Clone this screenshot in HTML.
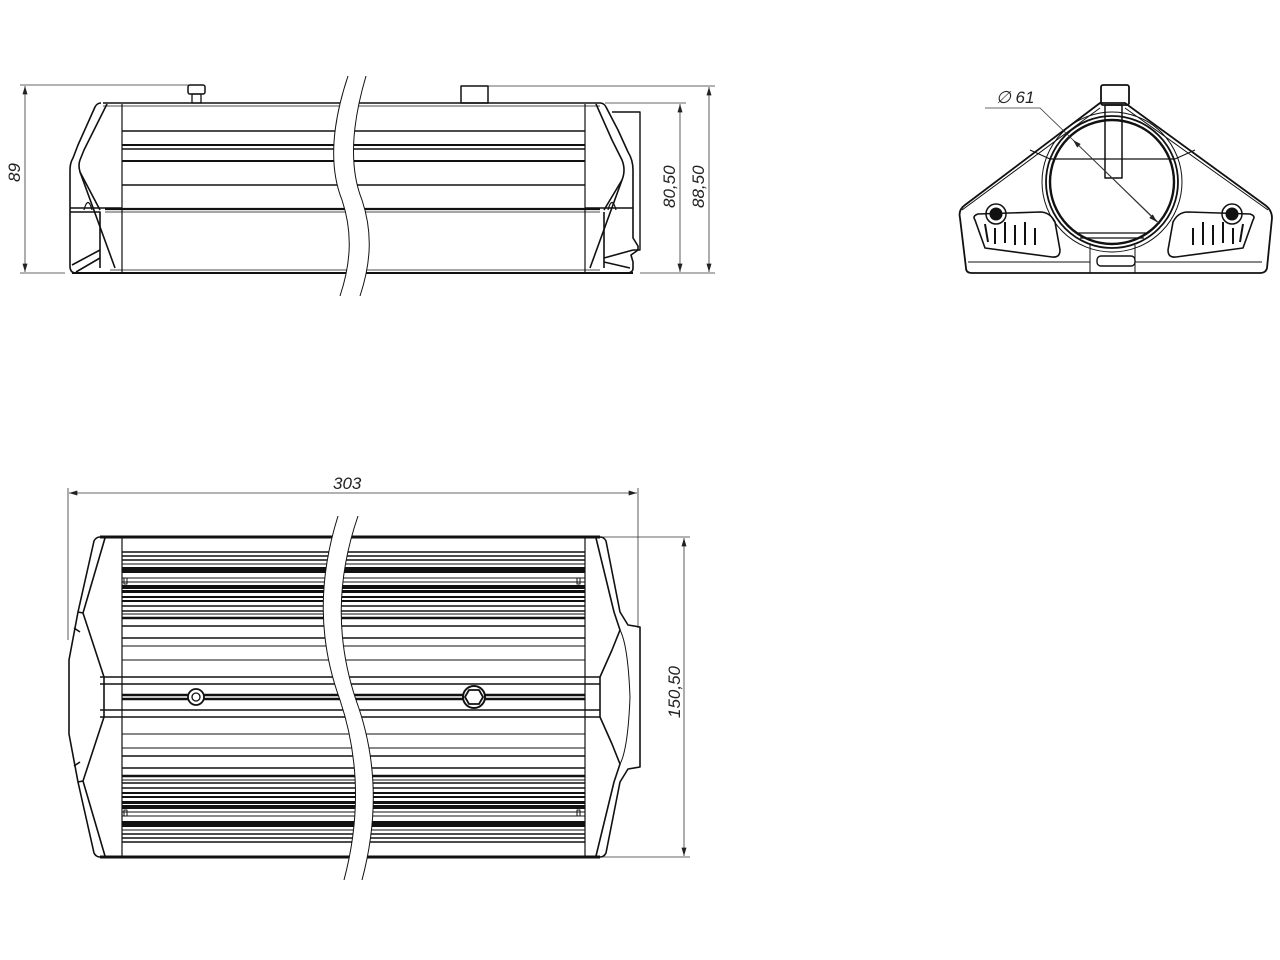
<!DOCTYPE html>
<html><head><meta charset="utf-8"><style>
html,body{margin:0;padding:0;background:#fff;width:1280px;height:960px;overflow:hidden}
svg{display:block}
text{font-family:"Liberation Sans",sans-serif;font-style:italic;font-size:17px;fill:#222}
</style></head><body>
<svg width="1280" height="960" viewBox="0 0 1280 960" xmlns="http://www.w3.org/2000/svg">
<defs>
<marker id="ar" viewBox="0 0 10 6" refX="10" refY="3" markerWidth="12" markerHeight="5" orient="auto-start-reverse" markerUnits="userSpaceOnUse"><path d="M0,0 L10,3 L0,6 z" fill="#222"/></marker>
</defs>
<g fill="none" stroke="#111" stroke-linejoin="round">

<!-- ================= SIDE VIEW ================= -->
<g stroke-width="0.8" stroke="#333">
<line x1="20" y1="85" x2="200" y2="85"/>
<line x1="20" y1="273" x2="65" y2="273"/>
<line x1="25" y1="86" x2="25" y2="272" marker-start="url(#ar)" marker-end="url(#ar)"/>
<line x1="488" y1="86" x2="715" y2="86"/>
<line x1="605" y1="103" x2="686" y2="103"/>
<line x1="640" y1="273" x2="715" y2="273"/>
<line x1="680" y1="104" x2="680" y2="272" marker-start="url(#ar)" marker-end="url(#ar)"/>
<line x1="709" y1="87" x2="709" y2="272" marker-start="url(#ar)" marker-end="url(#ar)"/>
</g>
<text x="0" y="0" transform="translate(20,182) rotate(-90)" stroke="none">89</text>
<text x="0" y="0" transform="translate(675,208) rotate(-90)" stroke="none">80,50</text>
<text x="0" y="0" transform="translate(704,208) rotate(-90)" stroke="none">88,50</text>

<rect x="188" y="85" width="17" height="9" rx="2" stroke-width="1.5"/>
<rect x="192" y="94" width="9" height="9" stroke-width="1.3"/>
<rect x="461" y="86" width="27" height="17" stroke-width="1.5"/>

<g stroke-width="1.6">
<line x1="103" y1="103" x2="600" y2="103"/>
<line x1="103" y1="106" x2="600" y2="106" stroke-width="0.8"/>
<line x1="72" y1="273" x2="633" y2="273" stroke-width="2"/>
<line x1="110" y1="270" x2="600" y2="270" stroke-width="0.8"/>
<line x1="122" y1="104" x2="122" y2="272" stroke-width="1.2"/>
<line x1="585" y1="104" x2="585" y2="272" stroke-width="1.2"/>
<line x1="122" y1="131" x2="585" y2="131"/>
<line x1="122" y1="145" x2="585" y2="145" stroke-width="2"/>
<line x1="122" y1="149" x2="585" y2="149"/>
<line x1="122" y1="161" x2="585" y2="161" stroke-width="2"/>
<line x1="122" y1="185" x2="585" y2="185"/>
<line x1="105" y1="209" x2="600" y2="209" stroke-width="2.2"/>
<line x1="105" y1="212" x2="600" y2="212" stroke-width="0.8"/>
</g>
<g stroke-width="1.6">
<path d="M101,103 Q97,103 95,107 L78,145 L73,158 Q70,163 70,170 L70,266 Q70,273 76,273"/>
<path d="M107,104 L84,150 L80,160 Q78,165 80,172 L115,268"/>
<path d="M80,172 L100,210"/>
<path d="M70,208 L122,208 M70,212 L100,212 L100,268"/>
<path d="M72,265 L100,250 M76,272 L100,258"/>
<path d="M84,210 Q88,195 92,210" stroke-width="1.2"/>
</g>
<g stroke-width="1.6">
<path d="M600,103 Q604,103 606,107 L618,130 L628,152 Q633,160 633,170 L633,238 L638,246 L638,250 L631,255 L633,262 L633,268 Q633,273 627,273"/>
<path d="M596,104 L612,140 L622,160 Q626,170 622,180 L590,268"/>
<path d="M622,180 L604,210"/>
<path d="M585,208 L633,208 M604,212 L604,268"/>
<path d="M633,250 L604,258 M630,268 L604,262"/>
<path d="M612,112 L640,112 L640,250 L633,250" stroke-width="1.4"/>
<path d="M616,210 Q612,195 608,210" stroke-width="1.2"/>
</g>
<path d="M348,76 C330,130 330,170 342,200 C352,230 352,260 340,296 L360,296 C372,260 372,230 362,200 C350,170 350,130 366,76 Z" fill="#fff" stroke="none"/>
<path d="M348,76 C330,130 330,170 342,200 C352,230 352,260 340,296" stroke-width="1"/>
<path d="M366,76 C350,130 350,170 362,200 C372,230 372,260 360,296" stroke-width="1"/>

<!-- ================= END VIEW ================= -->
<g stroke-width="1.8">
<path d="M1100,103 L1125,103 L1265,205 Q1272,210 1272,218 L1267,268 Q1266,273 1260,273 L972,273 Q966,273 966,268 L960,218 Q958,210 965,205 Z"/>
<path d="M1100,108 L962,210 M1125,108 L1268,210" stroke-width="1"/>
<circle cx="1112" cy="182" r="66"/>
<circle cx="1112" cy="182" r="62" stroke-width="2.4"/>
<circle cx="1112" cy="182" r="70" stroke-width="1"/>
<rect x="1101" y="85" width="28" height="20" rx="2"/>
<rect x="1105" y="105" width="17" height="73" stroke-width="1.5"/>
<line x1="1050" y1="159" x2="1175" y2="159" stroke-width="1.3"/>
<path d="M1050,159 L1030,150 M1175,159 L1195,150" stroke-width="1"/>
<path d="M1078,233 L1146,233 M1080,238 L1144,238" stroke-width="1.3"/>
<rect x="1097" y="256" width="38" height="10" rx="4" stroke-width="1.4"/>
<path d="M1090,245 L1090,273 M1135,245 L1135,273" stroke-width="1"/>
<path d="M968,262 L1090,262 M1135,262 L1262,262" stroke-width="1"/>
<path d="M975,220 Q972,216 978,214 L1040,212 Q1050,212 1055,222 L1060,250 Q1060,258 1052,257 L985,248 Z" stroke-width="1.6"/>
<path d="M985,224 L988,242 M995,228 L995,244 M1005,222 L1005,243 M1015,225 L1015,245 M1025,222 L1025,245 M1035,228 L1035,245" stroke-width="2"/>
<circle cx="996" cy="214" r="10" stroke-width="1.5"/>
<circle cx="996" cy="214" r="6" fill="#111" stroke-width="1"/>
<path d="M1253,220 Q1256,216 1250,214 L1188,212 Q1178,212 1173,222 L1168,250 Q1168,258 1176,257 L1243,248 Z" stroke-width="1.6"/>
<path d="M1243,224 L1240,242 M1233,228 L1233,244 M1223,222 L1223,243 M1213,225 L1213,245 M1203,222 L1203,245 M1193,228 L1193,245" stroke-width="2"/>
<circle cx="1232" cy="214" r="10" stroke-width="1.5"/>
<circle cx="1232" cy="214" r="6" fill="#111" stroke-width="1"/>
</g>
<g stroke-width="0.8" stroke="#333">
<path d="M985,108 L1040,108 L1160,224" />
<line x1="1073" y1="140" x2="1157" y2="222" marker-start="url(#ar)" marker-end="url(#ar)"/>
</g>
<text x="996" y="103" stroke="none">∅ 61</text>

<!-- ================= PLAN VIEW ================= -->
<g stroke-width="0.8" stroke="#333">
<line x1="68" y1="488" x2="68" y2="640"/>
<line x1="638" y1="488" x2="638" y2="628"/>
<line x1="69" y1="493" x2="637" y2="493" marker-start="url(#ar)" marker-end="url(#ar)"/>
<line x1="600" y1="537" x2="690" y2="537"/>
<line x1="600" y1="857" x2="690" y2="857"/>
<line x1="684" y1="538" x2="684" y2="856" marker-start="url(#ar)" marker-end="url(#ar)"/>
</g>
<text x="333" y="489" stroke="none">303</text>
<text x="0" y="0" transform="translate(680,718) rotate(-90)" stroke="none">150,50</text>

<g id="half">
<line x1="100" y1="537" x2="600" y2="537" stroke-width="3"/>
<g stroke-width="1.5">
<line x1="122" y1="552" x2="585" y2="552"/>
<line x1="122" y1="556" x2="585" y2="556"/>
<line x1="122" y1="560" x2="585" y2="560"/>
<line x1="122" y1="564" x2="585" y2="564" stroke-width="1"/>
<rect x="122" y="567" width="463" height="6" fill="#111" stroke="none"/>
<line x1="122" y1="578" x2="585" y2="578" stroke-width="1"/>
<line x1="122" y1="582" x2="585" y2="582" stroke-width="1"/>
<rect x="122" y="585" width="463" height="4" fill="#111" stroke="none"/>
<rect x="122" y="590" width="463" height="3" fill="#111" stroke="none"/>
<line x1="122" y1="597" x2="585" y2="597" stroke-width="2"/>
<line x1="122" y1="601" x2="585" y2="601" stroke-width="2"/>
<line x1="122" y1="606" x2="585" y2="606"/>
<line x1="122" y1="611" x2="585" y2="611"/>
<line x1="122" y1="614" x2="585" y2="614" stroke-width="1"/>
<line x1="122" y1="618" x2="585" y2="618" stroke-width="2.5"/>
<line x1="122" y1="626" x2="585" y2="626"/>
<line x1="122" y1="638" x2="585" y2="638"/>
<line x1="122" y1="646" x2="585" y2="646" stroke-width="1"/>
<line x1="122" y1="660" x2="585" y2="660" stroke-width="1"/>
<line x1="100" y1="677" x2="600" y2="677"/>
<line x1="100" y1="684" x2="600" y2="684"/>
<rect x="124" y="578" width="3" height="6" stroke-width="1"/>
<rect x="577" y="578" width="3" height="6" stroke-width="1"/>
</g>
<g stroke-width="1.6">
<path d="M100,537 Q96,537 94,541 L78,612 L69,660 L69,697"/>
<path d="M105,538 L83,613 L104,677 L104,697"/>
<path d="M78,612 L83,613 M74,628 L80,632"/>
<path d="M122,537 L122,697" stroke-width="1.2"/>
<path d="M600,537 Q604,537 606,541 L620,612 L628,625 L640,627 L640,697"/>
<path d="M596,538 L614,612 L620,630 L612,650 L600,677 L600,697"/>
<path d="M585,537 L585,697" stroke-width="1.2"/>
<path d="M620,630 Q628,645 630,697" stroke-width="1"/>
</g>
</g>
<use href="#half" transform="translate(0,1394) scale(1,-1)"/>
<line x1="122" y1="695" x2="585" y2="695" stroke-width="2.5"/>
<line x1="122" y1="699" x2="585" y2="699" stroke-width="2.5"/>
<circle cx="196" cy="697" r="8" fill="#fff" stroke-width="1.8"/>
<circle cx="196" cy="697" r="4" stroke-width="1.3"/>
<circle cx="474" cy="697" r="11" fill="#fff" stroke-width="2"/>
<path d="M469,690 L479,690 L483,697 L479,704 L469,704 L465,697 Z" stroke-width="1.8"/>
<path d="M338,516 C318,580 318,640 340,700 C360,760 360,820 344,880 L362,880 C378,820 378,760 356,700 C336,640 336,580 358,516 Z" fill="#fff" stroke="none"/>
<path d="M338,516 C318,580 318,640 340,700 C360,760 360,820 344,880" stroke-width="1"/>
<path d="M358,516 C336,580 336,640 356,700 C378,760 378,820 362,880" stroke-width="1"/>
</g>
</svg>
</body></html>
